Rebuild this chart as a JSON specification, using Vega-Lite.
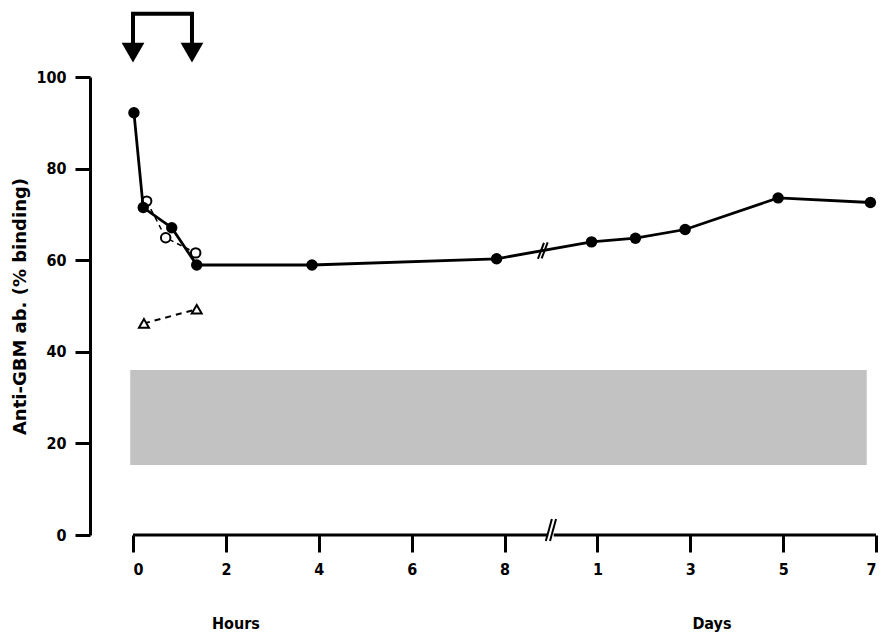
{
  "$schema": "https://vega.github.io/schema/vega-lite/v6.json",
  "width": 743,
  "height": 458,
  "autosize": {"type": "none"},
  "padding": {"left": 133, "top": 77, "right": 8, "bottom": 103},
  "background": "white",
  "config": {
    "view": {"stroke": null},
    "font": "DejaVu Sans",
    "axis": {"grid": false}
  },
  "datasets": {
    "main": [
      {"t": 0.01, "v": 92.2}, {"t": 0.11, "v": 71.5}, {"t": 0.417, "v": 67.1},
      {"t": 0.686, "v": 58.95}, {"t": 1.927, "v": 58.95}, {"t": 3.915, "v": 60.3},
      {"t": 4.937, "v": 64.0}, {"t": 5.41, "v": 64.8}, {"t": 5.945, "v": 66.7},
      {"t": 6.946, "v": 73.6}, {"t": 7.94, "v": 72.6}
    ],
    "open": [{"t": 0.147, "v": 72.9}, {"t": 0.352, "v": 64.9}, {"t": 0.675, "v": 61.6}],
    "tri": [{"t": 0.118, "v": 46.2}, {"t": 0.686, "v": 49.3}],
    "band": [{"t": -0.03, "t2": 7.9, "v": 15.3, "v2": 36.0}],
    "axisline": [{"t": 0, "t2": 4.47, "v": 0}, {"t": 4.53, "t2": 8, "v": 0}],
    "breaks": [
      {"t": 4.445, "v": -1.3, "t2": 4.51, "v2": 3.5},
      {"t": 4.49, "v": -1.3, "t2": 4.555, "v2": 3.5},
      {"t": 4.36, "v": 60.3, "t2": 4.425, "v2": 63.8},
      {"t": 4.40, "v": 60.4, "t2": 4.465, "v2": 63.9}
    ],
    "bracket": [
      {"t": 0, "v": 107, "o": 1}, {"t": 0, "v": 113.8, "o": 2},
      {"t": 0.635, "v": 113.8, "o": 3}, {"t": 0.635, "v": 107, "o": 4}
    ],
    "arrows": [{"t": 0, "v": 105.3}, {"t": 0.635, "v": 105.3}],
    "labels": [{"label": "Hours", "t": 1.109, "v": -19.4}, {"label": "Days", "t": 6.234, "v": -19.4}]
  },
  "encoding": {
    "x": {
      "field": "t", "type": "quantitative",
      "scale": {"domain": [0, 8], "nice": false, "zero": false},
      "axis": {
        "title": null, "values": [0, 1, 2, 3, 4, 5, 6, 7, 8],
        "labelExpr": "['0','2','4','6','8','1','3','5','7'][datum.value]",
        "domain": false, "ticks": true, "tickSize": 17, "tickWidth": 3, "tickColor": "black",
        "labelFont": "DejaVu Sans Condensed", "labelFontWeight": "bold", "labelFontSize": 16,
        "labelColor": "black", "labelPadding": 9
      }
    },
    "y": {
      "field": "v", "type": "quantitative",
      "scale": {"domain": [0, 100], "nice": false},
      "axis": {
        "title": "Anti-GBM ab.  (% binding)", "values": [0, 20, 40, 60, 80, 100],
        "offset": 43, "domain": true, "domainWidth": 3, "domainColor": "black",
        "ticks": true, "tickSize": 15, "tickWidth": 3, "tickColor": "black",
        "labelFont": "DejaVu Sans Condensed", "labelFontWeight": "bold", "labelFontSize": 16,
        "labelColor": "black", "labelPadding": 9,
        "titleFont": "DejaVu Sans", "titleFontWeight": "bold", "titleFontSize": 18,
        "titleColor": "black", "titlePadding": 6
      }
    }
  },
  "layer": [
    {
      "data": {"name": "band"},
      "mark": {"type": "rect", "fill": "#c2c2c2"},
      "encoding": {"x2": {"field": "t2"}, "y2": {"field": "v2"}}
    },
    {
      "data": {"name": "axisline"},
      "mark": {"type": "rule", "stroke": "black", "strokeWidth": 3},
      "encoding": {"x2": {"field": "t2"}}
    },
    {
      "data": {"name": "breaks"},
      "mark": {"type": "rule", "stroke": "black", "strokeWidth": 2},
      "encoding": {"x2": {"field": "t2"}, "y2": {"field": "v2"}}
    },
    {
      "data": {"name": "tri"},
      "mark": {"type": "line", "stroke": "black", "strokeWidth": 2, "strokeDash": [6, 5]},
      "encoding": {}
    },
    {
      "data": {"name": "tri"},
      "mark": {"type": "point", "shape": "triangle-up", "size": 100, "filled": true, "fill": "white", "stroke": "black", "strokeWidth": 2, "opacity": 1}
    },
    {
      "data": {"name": "open"},
      "mark": {"type": "line", "stroke": "black", "strokeWidth": 1.5, "strokeDash": [5, 4]},
      "encoding": {}
    },
    {
      "data": {"name": "open"},
      "mark": {"type": "point", "shape": "circle", "size": 90, "filled": true, "fill": "white", "stroke": "black", "strokeWidth": 2, "opacity": 1}
    },
    {
      "data": {"name": "main"},
      "mark": {"type": "line", "stroke": "black", "strokeWidth": 2.8},
      "encoding": {}
    },
    {
      "data": {"name": "main"},
      "mark": {"type": "point", "shape": "circle", "size": 130, "filled": true, "fill": "black", "opacity": 1}
    },
    {
      "data": {"name": "bracket"},
      "mark": {"type": "line", "stroke": "black", "strokeWidth": 4, "strokeJoin": "miter", "strokeCap": "square"},
      "encoding": {"order": {"field": "o"}}
    },
    {
      "data": {"name": "arrows"},
      "mark": {"type": "point", "shape": "triangle-down", "size": 520, "filled": true, "fill": "black", "opacity": 1}
    },
    {
      "data": {"name": "labels"},
      "mark": {"type": "text", "font": "DejaVu Sans Condensed", "fontWeight": "bold", "fontSize": 16, "color": "black", "baseline": "middle", "align": "center"},
      "encoding": {"text": {"field": "label"}}
    }
  ]
}
